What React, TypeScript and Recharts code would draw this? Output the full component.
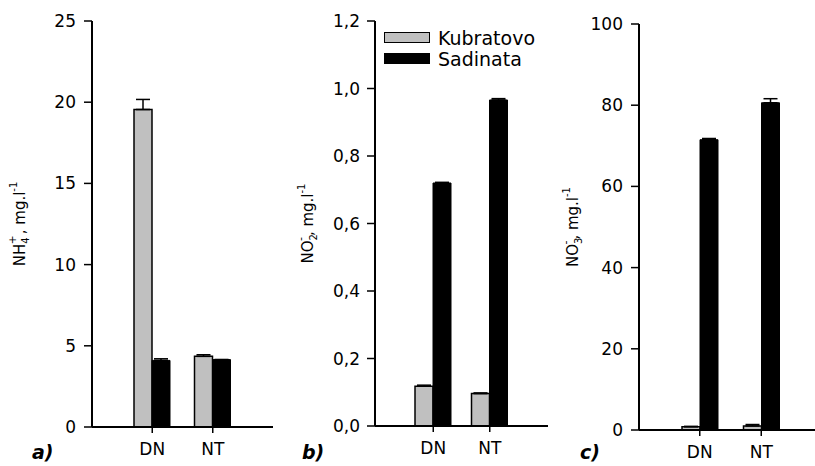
import React from 'react';
import { BarChart, Bar, XAxis, YAxis, ErrorBar, Legend } from 'recharts';

// categories and measured values (mean, upper error)
const categories = ['DN', 'NT'];

const nh4Kubratovo = [19.55, 4.35];
const nh4KubratovoErr = [0.62, 0.1];
const nh4Sadinata = [4.1, 4.15];
const nh4SadinataErr = [0.1, 0];

const no2Kubratovo = [0.118, 0.096];
const no2KubratovoErr = [0.003, 0.002];
const no2Sadinata = [0.72, 0.966];
const no2SadinataErr = [0.002, 0.004];

const no3Kubratovo = [0.8, 1.0];
const no3KubratovoErr = [0.1, 0.35];
const no3Sadinata = [71.5, 80.6];
const no3SadinataErr = [0.3, 1.0];

const ticksA = [0, 5, 10, 15, 20, 25];
const ticksB = [0, 0.2, 0.4, 0.6, 0.8, 1.0, 1.2];
const ticksC = [0, 20, 40, 60, 80, 100];

const GREY = '#c0c0c0';
const FONT = '"DejaVu Sans", Verdana, sans-serif';

const rows = (kub: number[], kubErr: number[], sad: number[], sadErr: number[]) =>
  categories.map((name, i) => ({
    name,
    kub: kub[i],
    kubErr: [0, kubErr[i]],
    sad: sad[i],
    sadErr: [0, sadErr[i]],
  }));

const dataA = rows(nh4Kubratovo, nh4KubratovoErr, nh4Sadinata, nh4SadinataErr);
const dataB = rows(no2Kubratovo, no2KubratovoErr, no2Sadinata, no2SadinataErr);
const dataC = rows(no3Kubratovo, no3KubratovoErr, no3Sadinata, no3SadinataErr);

function yLabel(x: number, ion: string, sub: string, sup: string) {
  return (props: any) => {
    const vb = props.viewBox || {};
    const cy = (vb.y || 0) + (vb.height || 0) / 2;
    return (
      <text
        x={x}
        y={cy}
        transform={`rotate(-90, ${x}, ${cy})`}
        textAnchor="middle"
        dominantBaseline="central"
        fontSize={15}
        fontFamily={FONT}
        fill="#000"
      >
        <tspan>{ion}</tspan>
        <tspan dy={5} fontSize={10}>{sub}</tspan>
        <tspan dx={-7} dy={-13} fontSize={11}>{sup}</tspan>
        <tspan dx={1} dy={8}>, mg.l</tspan>
        <tspan dy={-7} fontSize={10}>-1</tspan>
      </text>
    );
  };
}

function LegendBox(props: any) {
  const payload = props.payload || [];
  return (
    <div style={{ fontFamily: FONT, fontSize: 19 }}>
      {payload.map((p: any) => (
        <div key={p.value} style={{ display: 'flex', alignItems: 'center', height: 21 }}>
          <span
            style={{
              display: 'inline-block',
              width: 44,
              height: 9,
              background: p.color,
              border: '1px solid #000',
              marginRight: 8,
            }}
          />
          <span>{p.value}</span>
        </div>
      ))}
    </div>
  );
}

type PanelProps = {
  data: any[];
  left: number;
  width: number;
  top: number;
  bottom: number;
  axisWidth: number;
  max: number;
  ticks: number[];
  fmt?: (v: number) => string;
  label: (props: any) => React.ReactElement;
  tickMargin: number;
  legend?: boolean;
};

function Panel({ data, left, width, top, bottom, axisWidth, max, ticks, fmt, label, tickMargin, legend }: PanelProps) {
  const axisStyle = { fontSize: 17, fontFamily: FONT, fill: '#000' };
  return (
    <div style={{ position: 'absolute', left, top: 0 }}>
      <BarChart
        width={width}
        height={466}
        data={data}
        margin={{ top, right: 2, left: 0, bottom }}
        barSize={18}
        barGap={0}
      >
        <XAxis
          dataKey="name"
          padding={{ left: 30, right: 30 }}
          axisLine={{ stroke: '#000', strokeWidth: 2 }}
          tickLine={{ stroke: '#000', strokeWidth: 1.5 }}
          tickSize={6}
          tickMargin={10}
          tick={axisStyle}
          height={30}
        />
        <XAxis xAxisId="top" orientation="top" height={0} tick={false} tickLine={false}
          axisLine={{ stroke: '#000', strokeWidth: 1.5 }} />
        <YAxis
          domain={[0, max]}
          ticks={ticks}
          tickFormatter={fmt}
          width={axisWidth}
          axisLine={{ stroke: '#000', strokeWidth: 2 }}
          tickLine={{ stroke: '#000', strokeWidth: 1.5 }}
          tickSize={8}
          tickMargin={tickMargin}
          tick={axisStyle}
          label={{ content: label }}
          allowDataOverflow
        />
        <YAxis yAxisId="right" orientation="right" width={0} tick={false} tickLine={false}
          axisLine={{ stroke: '#000', strokeWidth: 1.5 }} />
        {legend && (
          <Legend
            layout="vertical"
            verticalAlign="middle"
            align="center"
            content={<LegendBox />}
            wrapperStyle={{ left: 104, top: 27, width: 200 }}
          />
        )}
        <Bar dataKey="kub" name="Kubratovo" fill={GREY} stroke="#000" strokeWidth={1.5} isAnimationActive={false}>
          <ErrorBar dataKey="kubErr" width={7} stroke="#000" strokeWidth={1.5} direction="y" />
        </Bar>
        <Bar dataKey="sad" name="Sadinata" fill="#000" stroke="#000" strokeWidth={1} isAnimationActive={false}>
          <ErrorBar dataKey="sadErr" width={7} stroke="#000" strokeWidth={1.5} direction="y" />
        </Bar>
      </BarChart>
    </div>
  );
}

const tag = { position: 'absolute' as const, fontFamily: FONT, fontSize: 19, fontWeight: 'bold' as const, fontStyle: 'italic' as const, top: 441 };

export default function App() {
  return (
    <div style={{ position: 'absolute', left: 0, top: 0, width: 815, height: 466, overflow: 'hidden', background: '#fff' }}>
      <Panel data={dataA} left={0} width={275} top={21} bottom={9} axisWidth={92} max={25}
        ticks={ticksA} label={yLabel(20, 'NH', '4', '+')} tickMargin={8} />
      <Panel data={dataB} left={280} width={270} top={21} bottom={10} axisWidth={95} max={1.2}
        ticks={ticksB} fmt={(v) => v.toFixed(1).replace('.', ',')} label={yLabel(28, 'NO', '2', '-')}
        tickMargin={7} legend />
      <Panel data={dataC} left={553} width={271} top={24} bottom={6} axisWidth={86} max={100}
        ticks={ticksC} label={yLabel(20, 'NO', '3', '-')} tickMargin={8} />
      <div style={{ ...tag, left: 32 }}>a)</div>
      <div style={{ ...tag, left: 302 }}>b)</div>
      <div style={{ ...tag, left: 580 }}>c)</div>
    </div>
  );
}
